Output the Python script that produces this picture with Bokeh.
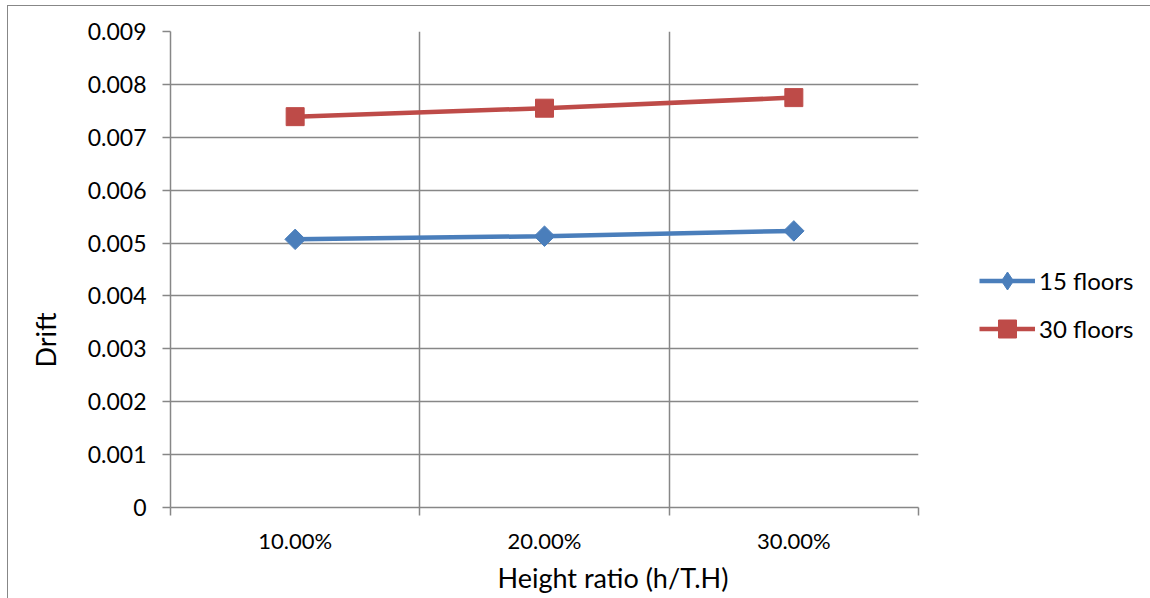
import math
from bokeh.plotting import figure
from bokeh.models import FixedTicker, Legend, LegendItem, Title, Range1d, NumeralTickFormatter
from bokeh.embed import file_html
from bokeh.resources import INLINE

categories = ["10.00%", "20.00%", "30.00%"]
floors15 = [0.00507, 0.00513, 0.00523]
floors30 = [0.00739, 0.00755, 0.00775]
y_ticks = [0, 0.001, 0.002, 0.003, 0.004, 0.005, 0.006, 0.007, 0.008, 0.009]

FONT = "Lato"
GRID = "#878787"
BLUE = "#4A7EBB"
RED = "#BE4B48"
NAN = float("nan")

xs = [i + 0.5 for i in range(len(categories))]
bounds = list(range(len(categories) + 1))

p = figure(frame_width=748, frame_height=476, output_backend="svg", toolbar_location=None,
           x_range=Range1d(0, len(categories)), y_range=Range1d(0, 0.009),
           min_border_left=162, min_border_right=232, min_border_top=25, min_border_bottom=91)
p.styles = {"margin-left": "7px", "margin-top": "5px",
            "border-left": "1px solid #878787", "border-top": "1px solid #878787"}
p.outline_line_color = None
p.background_fill_color = "white"
p.border_fill_color = "white"

# grids
p.xgrid.ticker = FixedTicker(ticks=bounds)
p.ygrid.ticker = FixedTicker(ticks=y_ticks)
for g in (p.xgrid, p.ygrid):
    g.grid_line_color = GRID
    g.grid_line_width = 1.5

# x axis
xa = p.xaxis[0]
xa.ticker = FixedTicker(ticks=xs, minor_ticks=bounds)
xa.major_label_overrides = {x: c for x, c in zip(xs, categories)}
xa.major_tick_line_color = None
xa.major_tick_out = 0
xa.major_tick_in = 0
xa.minor_tick_line_color = GRID
xa.minor_tick_line_width = 1.5
xa.minor_tick_out = 8
xa.minor_tick_in = 0
xa.axis_line_color = GRID
xa.axis_line_width = 1.5
xa.major_label_text_font = FONT
xa.major_label_text_font_size = "22px"
xa.major_label_text_color = "black"
xa.major_label_standoff = 11

# y axis
ya = p.yaxis[0]
ya.ticker = FixedTicker(ticks=y_ticks)
ya.formatter = NumeralTickFormatter(format="0.000")
ya.major_label_overrides = {0: "0"}
ya.major_tick_line_color = GRID
ya.major_tick_line_width = 1.5
ya.major_tick_out = 8
ya.major_tick_in = 0
ya.minor_tick_line_color = None
ya.axis_line_color = GRID
ya.axis_line_width = 1.5
ya.major_label_text_font = FONT
ya.major_label_text_font_size = "23px"
ya.major_label_text_color = "black"
ya.major_label_standoff = 16

# series
l1 = p.line(xs, floors15, line_color=BLUE, line_width=4.5)
m1 = p.scatter(xs, floors15, marker="square", angle=math.pi / 4, size=14.5,
               fill_color=BLUE, line_color=BLUE)
l2 = p.line(xs, floors30, line_color=RED, line_width=4.5)
m2 = p.scatter(xs, floors30, marker="square", size=18, fill_color=RED, line_color=RED)

# legend-only marker keys (NaN position, drawn only inside the legend)
k1 = p.scatter([NAN], [NAN], marker="diamond", fill_color=BLUE, line_color=BLUE)
k2 = p.scatter([NAN], [NAN], marker="square", fill_color=RED, line_color=RED)

legend = Legend(items=[LegendItem(label="15 floors", renderers=[l1, k1]),
                       LegendItem(label="30 floors", renderers=[l2, k2])],
                location=(61, 156), orientation="vertical")
legend.border_line_color = None
legend.background_fill_alpha = 0
legend.glyph_width = 56
legend.glyph_height = 45
legend.label_standoff = 4
legend.spacing = 3
legend.padding = 0
legend.margin = 0
legend.label_text_font = FONT
legend.label_text_font_size = "24px"
legend.label_text_color = "black"
legend.label_height = 20
p.add_layout(legend, "right")

# axis titles
p.add_layout(Title(text="Drift", align="left", offset=140, standoff=41, vertical_align="top",
                   text_font=FONT, text_font_size="27px", text_font_style="normal",
                   text_color="black"), "left")
p.add_layout(Title(text="Height ratio (h/T.H)", align="left", offset=327, standoff=5,
                   text_font=FONT, text_font_size="27px", text_font_style="normal",
                   text_color="black"), "below")

open("out.html", "w").write(file_html(p, INLINE))
